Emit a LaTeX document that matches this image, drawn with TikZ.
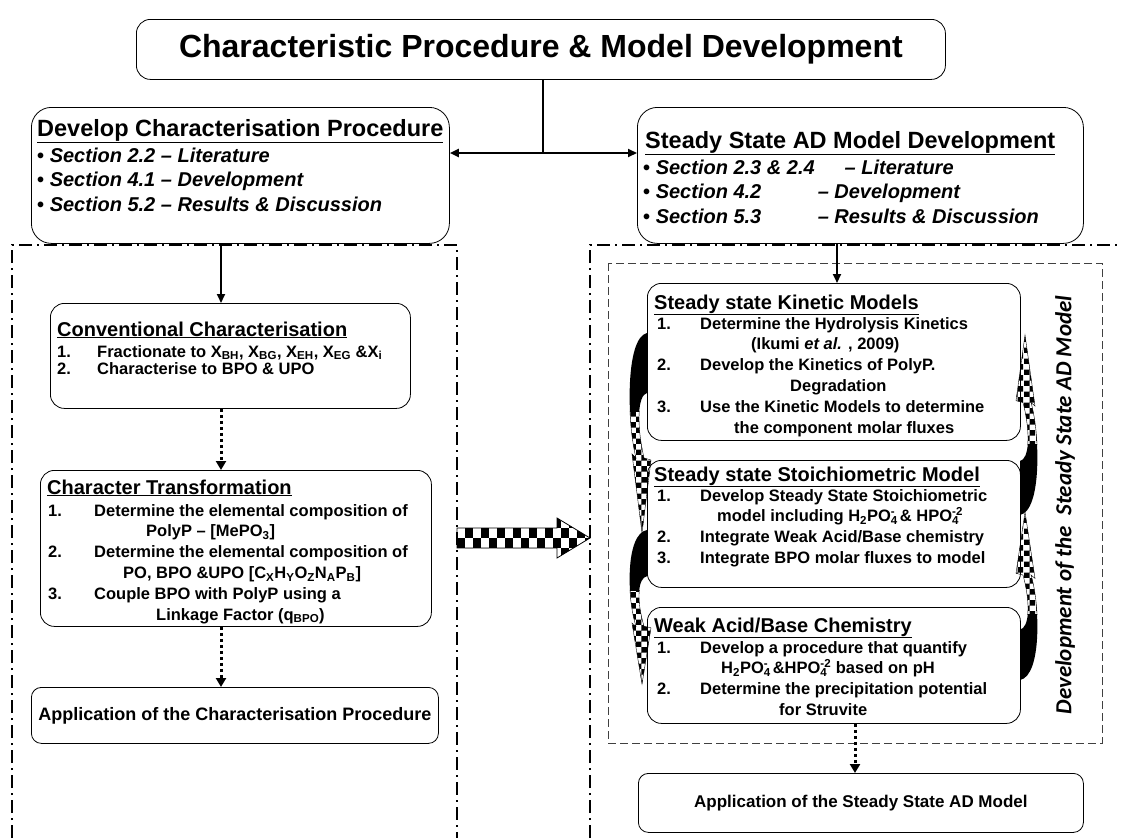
\documentclass[tikz,border=0pt]{standalone}
\usepackage{fontspec}
\setmainfont{Liberation Sans}
\newfontfamily\calib{Carlito}
\usetikzlibrary{arrows.meta,patterns,positioning}

\newcommand{\fsz}[2]{\fontsize{#1}{#2}\selectfont}
\newcommand{\nr}[2][43pt]{\makebox[#1][l]{#2}}
\newcommand{\sbsp}[2]{\makebox[0pt][l]{\textsubscript{#1}}\textsuperscript{#2}}
\newcommand{\rows}[1]{\begin{tabular}[t]{@{}l@{}}#1\end{tabular}}

\tikzset{
	box/.style={draw, fill=white, line width=0.8pt, rounded corners=14pt, anchor=north west, inner sep=0pt},
	hd/.style={anchor=base west, inner sep=0pt, font=\fsz{23.5}{27}\bfseries},
	subhd/.style={anchor=base west, inner sep=0pt, font=\fsz{20}{24}\bfseries},
	sec/.style={anchor=base west, inner sep=0pt, font=\fsz{20}{24.5}\bfseries},
	itms/.style={anchor=base west, inner sep=0pt, font=\fsz{16.5}{20.8}\bfseries},
	sarr/.style={line width=2pt, -{Triangle[length=9pt,width=8pt]}},
	darr/.style={line width=3pt, dash pattern=on 3pt off 3pt, -{Triangle[length=9pt,width=10pt]}},
	dashdot/.style={line width=1.6pt, dash pattern=on 13pt off 5pt on 2pt off 5pt},
	twist/.pic={
		% black back of the bent arrow
		\begin{scope}
			\clip (-30,-5) rectangle (10,78);
			\fill (0,0) .. controls (-22,5) and (-20,90) .. (-11,125) -- (-3,125) .. controls (-11,90) and (-9,62) .. (0,60) -- cycle;
		\end{scope}
		% checkered front with the head
		\begin{scope}
			\clip (-30,78) rectangle (10,205);
			\filldraw[pattern=checkerboard, line width=0.4pt] (0,0) .. controls (-22,5) and (-20,90) .. (-11,125) -- (-15,121) -- (-5,200) -- (4,127) -- (-3,125) .. controls (-11,90) and (-9,62) .. (0,60) -- cycle;
		\end{scope}
	}
}

\begin{document}
\begin{tikzpicture}[x=1pt, y=-1pt]
	\useasboundingbox (0,0) rectangle (1121,838);

	% frames of the two parts
	\draw [dashdot] (12,838) -- (12,245) -- (457,245) -- (457,838);
	\draw [dashdot] (590,838) -- (590,245) -- (1121,245);
	\draw [line width=0.8pt, black!75, dash pattern=on 8pt off 4pt] (608,263) rectangle (1102,743);

	% title
	\node [box, minimum width=809, minimum height=60, font=\fsz{32}{36}\bfseries] (title) at (136,19) {Characteristic Procedure \& Model Development};

	% characterisation procedure
	\node [box, rounded corners=20pt, minimum width=418, minimum height=136] (dcp) at (31,107) {};
	\node [hd] (dcph) at (37,136) {\underline{Develop Characterisation Procedure}};
	\node [sec] (dcps) at (37,162) {\rows{• \textit{Section 2.2 – Literature}\\• \textit{Section 4.1 – Development}\\• \textit{Section 5.2 – Results \& Discussion}}};

	% steady state model
	\node [box, rounded corners=20pt, minimum width=446, minimum height=136] (ssm) at (637,107) {};
	\node [hd] (ssmh) at (645,148) {\underline{Steady State AD Model Development}};
	\node [sec] (ssms) at (643,174) {\rows{• \textit{Section 2.3 \& 2.4\hspace{30pt}– Literature}\\• \textit{\makebox[162pt][l]{Section 4.2}– Development}\\• \textit{\makebox[162pt][l]{Section 5.3}– Results \& Discussion}}};

	% left column
	\node [box, minimum width=360, minimum height=105] (conv) at (50,303) {};
	\node [subhd] (convh) at (57,336) {\underline{Conventional Characterisation}};
	\node [itms, font=\fsz{16.5}{17.5}\bfseries] (convi) at (57,357) {\rows{\nr[40pt]{1.}Fractionate to X\textsubscript{BH}, X\textsubscript{BG}, X\textsubscript{EH}, X\textsubscript{EG} \&X\textsubscript{i}\\\nr[40pt]{2.}Characterise to BPO \& UPO}};

	\node [box, minimum width=391, minimum height=156] (ctr) at (40,470) {};
	\node [subhd] (ctrh) at (47,494) {\underline{Character Transformation}};
	\node [itms] (ctri) at (48,516) {\rows{\nr[46pt]{1.}Determine the elemental composition of\\
		\hspace*{98pt}PolyP – [MePO\textsubscript{3}]\\
		\nr[46pt]{2.}Determine the elemental composition of\\
		\hspace*{75pt}PO, BPO \&UPO [C\textsubscript{X}H\textsubscript{Y}O\textsubscript{Z}N\textsubscript{A}P\textsubscript{B}]\\
		\nr[46pt]{3.}Couple BPO with PolyP using a\\
		\hspace*{108pt}Linkage Factor (q\textsubscript{BPO})}};

	\node [box, rounded corners=10pt, minimum width=407, minimum height=56, font=\fsz{18}{22}\bfseries] (lapp) at (31,687) {Application of the Characterisation Procedure};

	% right column
	\node [box, minimum width=373, minimum height=157] (kin) at (647,283) {};
	\node [subhd] (kinh) at (654,309) {\underline{Steady state Kinetic Models}};
	\node [itms] (kini) at (657,329) {\rows{\nr{1.}Determine the Hydrolysis Kinetics\\
		\hspace*{94pt}(Ikumi \textit{et al.} , 2009)\\
		\nr{2.}Develop the Kinetics of PolyP.\\
		\hspace*{133pt}Degradation\\
		\nr{3.}Use the Kinetic Models to determine\\
		\hspace*{77pt}the component molar fluxes}};

	\node [box, minimum width=373, minimum height=127] (sto) at (647,460) {};
	\node [subhd] (stoh) at (654,481) {\underline{Steady state Stoichiometric Model}};
	\node [itms] (stoi) at (657,501) {\rows{\nr{1.}Develop Steady State Stoichiometric\\
		\hspace*{60pt}model including H\textsubscript{2}PO\sbsp{4}{-} \& HPO\sbsp{4}{-2}\\
		\nr{2.}Integrate Weak Acid/Base chemistry\\
		\nr{3.}Integrate BPO molar fluxes to model}};

	\node [box, minimum width=373, minimum height=116] (wab) at (647,607) {};
	\node [subhd] (wabh) at (654,632) {\underline{Weak Acid/Base Chemistry}};
	\node [itms] (wabi) at (657,653) {\rows{\nr{1.}Develop a procedure that quantify\\
		\hspace*{64pt}H\textsubscript{2}PO\sbsp{4}{-} \&HPO\sbsp{4}{-2} based on pH\\
		\nr{2.}Determine the precipitation potential\\
		\hspace*{122pt}for Struvite}};

	\node [box, rounded corners=10pt, minimum width=445, minimum height=59, font=\fsz{17}{21}\bfseries] (rapp) at (638,773) {Application of the Steady State AD Model};

	\node [rotate=90, inner sep=0pt, font=\calib\bfseries\itshape\fsz{23}{26}] (vlab) at (1065,505) {Development of the\ \ Steady State AD Model};

	% connectors
	\coordinate (jn) at (543,153);
	\coordinate (lx) at (221,0);
	\coordinate (rx) at (837,0);
	\coordinate (rdx) at (855,0);
	\draw [line width=2pt] (title.south -| jn) -- (jn);
	\draw [line width=2pt, {Triangle[length=9pt,width=8pt]}-{Triangle[length=9pt,width=8pt]}] (dcp.east |- jn) -- (ssm.west |- jn);
	\draw [sarr] (dcp.south -| lx) -- (conv.north -| lx);
	\draw [sarr] (ssm.south -| rx) -- (kin.north -| rx);
	\draw [darr] (conv.south -| lx) -- (ctr.north -| lx);
	\draw [darr] (ctr.south -| lx) -- (lapp.north -| lx);
	\draw [darr] (wab.south -| rdx) -- (rapp.north -| rdx);

	% bent arrows between the model boxes
	\pic at (647,333) {twist};
	\pic [yscale=0.77] at (647,530) {twist};
	\pic [rotate=180, yscale=0.9] at (1020,515) {twist};
	\pic [rotate=180, yscale=0.84] at (1020,680) {twist};

	% checkered arrow from procedure to model
	\begin{scope}
		\clip (457,528) -- (557,528) -- (557,518) -- (590,538) -- (557,558) -- (557,548) -- (457,548) -- cycle;
		\foreach \i in {0,...,16}{
			\foreach \j in {0,...,3}{
				\pgfmathparse{int(mod(\i+\j,2))}
				\ifnum\pgfmathresult=0 \fill (457+8*\i,518+10*\j) rectangle ++(8,10); \fi
			}
		}
	\end{scope}
	\draw [line width=0.8pt] (457,528) -- (557,528) -- (557,518) -- (590,538) -- (557,558) -- (557,548) -- (457,548) -- cycle;
\end{tikzpicture}
\end{document}
